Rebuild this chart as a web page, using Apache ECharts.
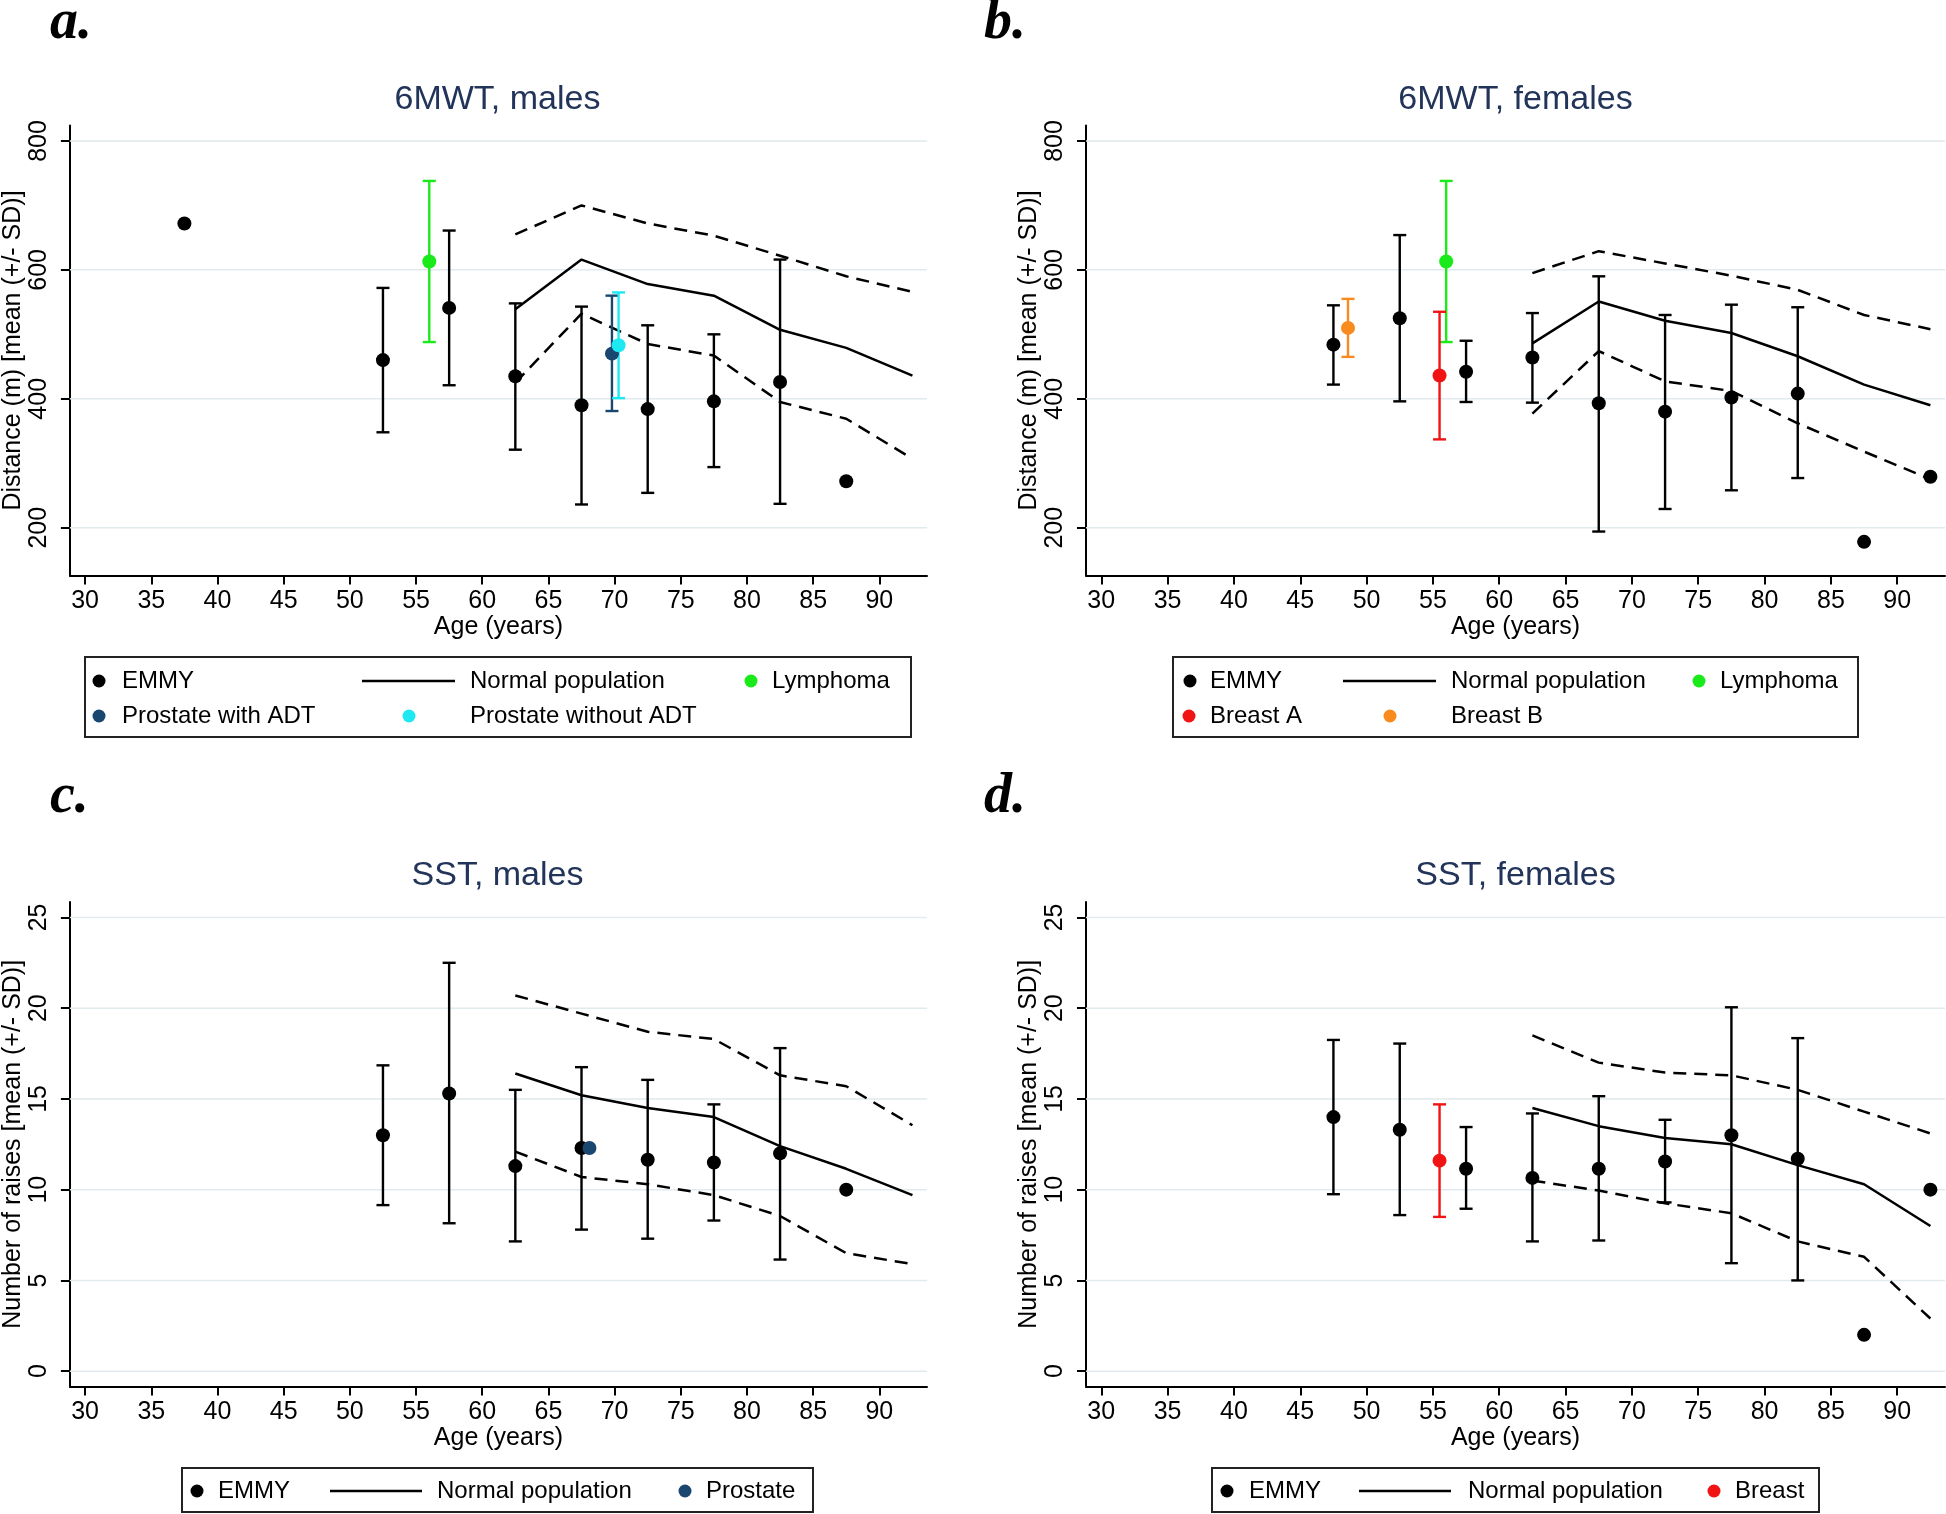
<!DOCTYPE html>
<html>
<head>
<meta charset="utf-8">
<script src="https://cdn.jsdelivr.net/npm/echarts@6/dist/echarts.min.js"></script>
<style>
  html, body { margin: 0; padding: 0; background: #fff; }
  #chart { width: 1946px; height: 1514px; }
</style>
</head>
<body>
<div id="chart"></div>
<script>
// tick labels
const xTicks = [30, 35, 40, 45, 50, 55, 60, 65, 70, 75, 80, 85, 90];
const walkTicks = [200, 400, 600, 800];
const standTicks = [0, 5, 10, 15, 20, 25];

// normal population reference ages
const normAge = [62.5, 67.5, 72.5, 77.5, 82.5, 87.5, 92.5];

// a. 6MWT, males
const maleWalkAge = [37.5, 52.5, 57.5, 62.5, 67.5, 72.5, 77.5, 82.5, 87.5];
const maleWalkMean = [672, 460, 541, 435, 390, 384, 396, 426, 272];
const maleWalkLow = [null, 348, 421, 321, 236, 254, 294, 237, null];
const maleWalkHigh = [null, 572, 661, 548, 543, 514, 500, 616, null];
const maleWalkNorm = [539, 616, 578, 560, 507, 479, 436];
const maleWalkUpper = [655, 700, 672, 653, 622, 590, 566];
const maleWalkLower = [425, 532, 485, 467, 395, 369, 307];

// b. 6MWT, females
const femaleWalkAge = [47.5, 52.5, 57.5, 62.5, 67.5, 72.5, 77.5, 82.5, 87.5, 92.5];
const femaleWalkMean = [484, 525, 442, 464, 393, 380, 402, 408, 178, 279];
const femaleWalkLow = [422, 396, 395, 394, 194, 229, 258, 277, null, null];
const femaleWalkHigh = [545, 654, 490, 533, 590, 530, 546, 542, null, null];
const femaleWalkNorm = [486, 551, 521, 502, 466, 422, 390];
const femaleWalkUpper = [595, 629, 610, 591, 569, 530, 508];
const femaleWalkLower = [377, 474, 427, 412, 362, 318, 275];

// c. SST, males
const maleStandAge = [52.5, 57.5, 62.5, 67.5, 72.5, 77.5, 82.5, 87.5];
const maleStandMean = [13.0, 15.3, 11.3, 12.3, 11.65, 11.5, 12.0, 10.0];
const maleStandLow = [9.15, 8.15, 7.15, 7.8, 7.3, 8.3, 6.15, null];
const maleStandHigh = [16.85, 22.5, 15.5, 16.75, 16.05, 14.7, 17.8, null];
const maleStandNorm = [16.4, 15.2, 14.5, 14.0, 12.4, 11.15, 9.7];
const maleStandUpper = [20.7, 19.7, 18.7, 18.3, 16.3, 15.7, 13.55];
const maleStandLower = [12.1, 10.7, 10.3, 9.7, 8.55, 6.5, 5.9];

// d. SST, females
const femaleStandAge = [47.5, 52.5, 57.5, 62.5, 67.5, 72.5, 77.5, 82.5, 87.5, 92.5];
const femaleStandMean = [14.0, 13.3, 11.15, 10.65, 11.15, 11.55, 13.0, 11.7, 2.0, 10.0];
const femaleStandLow = [9.75, 8.6, 8.95, 7.15, 7.2, 9.3, 5.95, 5.0, null, null];
const femaleStandHigh = [18.25, 18.05, 13.45, 14.2, 15.15, 13.85, 20.05, 18.35, null, null];
const femaleStandNorm = [14.5, 13.5, 12.85, 12.5, 11.35, 10.3, 8.0];
const femaleStandUpper = [18.5, 17.0, 16.45, 16.3, 15.5, 14.3, 13.1];
const femaleStandLower = [10.5, 9.95, 9.25, 8.7, 7.15, 6.3, 2.9];

// cancer groups: [age, mean, -SD, +SD]
const lymphomaWalk = [56.0, 613, 488, 738];
const prostateAdtWalk = [69.8, 470, 381, 560];
const prostateNoAdtWalk = [70.3, 483, 401, 565];
const breastAWalk = [55.5, 436, 337, 535];
const breastBWalk = [48.6, 510, 465, 555];
const prostateStand = [68.1, 12.3, null, null];
const breastStand = [55.5, 11.6, 8.5, 14.7];

const SANS = '"Liberation Sans", Arial, Helvetica, sans-serif';
const SERIF = '"Liberation Serif", "Times New Roman", serif';
const LIME = "#1aea1a";
const NAVY = "#1a476f";
const CYAN = "#1ee8f2";
const RED = "#f01414";
const ORANGE = "#f98b1e";
const TITLE = "#22345a";
const GRIDLINE = "#e1eaed";

const panels = [
  {
    letter: "a.", title: "6MWT, males",
    grid: { left: 68, top: 125.5, width: 859, height: 450 },
    yMin: 125.8, yMax: 824, yTicks: walkTicks, yName: "Distance (m) [mean (+/- SD)]",
    age: maleWalkAge, mean: maleWalkMean, low: maleWalkLow, high: maleWalkHigh,
    norm: maleWalkNorm, upper: maleWalkUpper, lower: maleWalkLower,
    groups: [
      { name: "Lymphoma", color: LIME, data: lymphomaWalk },
      { name: "Prostate with ADT", color: NAVY, data: prostateAdtWalk },
      { name: "Prostate without ADT", color: CYAN, data: prostateNoAdtWalk }
    ]
  },
  {
    letter: "b.", title: "6MWT, females",
    grid: { left: 1086, top: 125.5, width: 859, height: 450 },
    yMin: 125.8, yMax: 824, yTicks: walkTicks, yName: "Distance (m) [mean (+/- SD)]",
    age: femaleWalkAge, mean: femaleWalkMean, low: femaleWalkLow, high: femaleWalkHigh,
    norm: femaleWalkNorm, upper: femaleWalkUpper, lower: femaleWalkLower,
    groups: [
      { name: "Lymphoma", color: LIME, data: lymphomaWalk },
      { name: "Breast B", color: ORANGE, data: breastBWalk },
      { name: "Breast A", color: RED, data: breastAWalk }
    ]
  },
  {
    letter: "c.", title: "SST, males",
    grid: { left: 68, top: 902, width: 859, height: 484.6 },
    yMin: -0.85, yMax: 25.85, yTicks: standTicks, yName: "Number of raises [mean (+/- SD)]",
    age: maleStandAge, mean: maleStandMean, low: maleStandLow, high: maleStandHigh,
    norm: maleStandNorm, upper: maleStandUpper, lower: maleStandLower,
    groups: [
      { name: "Prostate", color: NAVY, data: prostateStand }
    ]
  },
  {
    letter: "d.", title: "SST, females",
    grid: { left: 1086, top: 902, width: 859, height: 484.6 },
    yMin: -0.85, yMax: 25.85, yTicks: standTicks, yName: "Number of raises [mean (+/- SD)]",
    age: femaleStandAge, mean: femaleStandMean, low: femaleStandLow, high: femaleStandHigh,
    norm: femaleStandNorm, upper: femaleStandUpper, lower: femaleStandLower,
    groups: [
      { name: "Breast", color: RED, data: breastStand }
    ]
  }
];

function errorBarItem(color) {
  return function (params, api) {
    const x = api.value(0);
    const lo = api.coord([x, api.value(1)]);
    const hi = api.coord([x, api.value(2)]);
    const cap = 6.5;
    const style = { stroke: color, lineWidth: 2.4 };
    return {
      type: "group",
      children: [
        { type: "line", shape: { x1: lo[0], y1: lo[1], x2: hi[0], y2: hi[1] }, style },
        { type: "line", shape: { x1: lo[0] - cap, y1: lo[1], x2: lo[0] + cap, y2: lo[1] }, style },
        { type: "line", shape: { x1: hi[0] - cap, y1: hi[1], x2: hi[0] + cap, y2: hi[1] }, style }
      ]
    };
  };
}

function gridLineItem(params, api) {
  const y = api.coord([api.value(0), api.value(1)])[1];
  const cs = params.coordSys;
  return {
    type: "line",
    shape: { x1: cs.x, y1: y, x2: cs.x + cs.width, y2: y },
    style: { stroke: GRIDLINE, lineWidth: 1.5 }
  };
}

const grids = [];
const xAxes = [];
const yAxes = [];
const series = [];
const graphics = [];

panels.forEach((p, i) => {
  grids.push(p.grid);
  xAxes.push({
    type: "value", gridIndex: i, min: 28.85, max: 93.6,
    axisLine: { show: true, onZero: false, lineStyle: { color: "#000", width: 2 } },
    axisTick: { show: true, length: 9, customValues: xTicks, lineStyle: { color: "#000", width: 2 } },
    axisLabel: { customValues: xTicks, color: "#000", fontSize: 25, fontFamily: SANS, margin: 13 },
    splitLine: { show: false },
    name: "Age (years)", nameLocation: "middle", nameGap: 39,
    nameTextStyle: { color: "#000", fontSize: 25, fontFamily: SANS }
  });
  yAxes.push({
    type: "value", gridIndex: i, min: p.yMin, max: p.yMax,
    axisLine: { show: true, onZero: false, lineStyle: { color: "#000", width: 2 } },
    axisTick: { show: true, length: 9, customValues: p.yTicks, lineStyle: { color: "#000", width: 2 } },
    axisLabel: { customValues: p.yTicks, rotate: 90, color: "#000", fontSize: 25, fontFamily: SANS, margin: 18 },
    splitLine: { show: false },
    name: p.yName, nameLocation: "middle", nameGap: 43,
    nameTextStyle: { color: "#000", fontSize: 25, fontFamily: SANS }
  });

  const ax = { xAxisIndex: i, yAxisIndex: i };
  series.push({
    type: "custom", ...ax, z: 1, silent: true,
    renderItem: gridLineItem,
    data: p.yTicks.map(v => [xTicks[0], v])
  });
  series.push({
    name: "Normal population", type: "line", ...ax, z: 2, symbol: "none",
    lineStyle: { color: "#000", width: 2.5 },
    data: normAge.map((a, k) => [a, p.norm[k]])
  });
  [p.upper, p.lower].forEach(band => {
    series.push({
      type: "line", ...ax, z: 2, symbol: "none",
      lineStyle: { color: "#000", width: 2.5, type: [13, 8] },
      data: normAge.map((a, k) => [a, band[k]])
    });
  });
  series.push({
    type: "custom", ...ax, z: 3, renderItem: errorBarItem("#000"),
    encode: { x: 0, y: [1, 2] },
    data: p.age.map((a, k) => [a, p.low[k], p.high[k]]).filter(d => d[1] != null)
  });
  series.push({
    name: "EMMY", type: "scatter", ...ax, z: 4, symbolSize: 14,
    itemStyle: { color: "#000", opacity: 1 },
    data: p.age.map((a, k) => [a, p.mean[k]])
  });
  p.groups.forEach(g => {
    if (g.data[2] != null) {
      series.push({
        type: "custom", ...ax, z: 5, renderItem: errorBarItem(g.color),
        encode: { x: 0, y: [1, 2] },
        data: [[g.data[0], g.data[2], g.data[3]]]
      });
    }
    series.push({
      name: g.name, type: "scatter", ...ax, z: 6, symbolSize: 14,
      itemStyle: { color: g.color, opacity: 1 },
      data: [[g.data[0], g.data[1]]]
    });
  });

  // panel letter and title
  const cx = p.grid.left + p.grid.width / 2;
  const top = i < 2 ? 0 : 774;
  graphics.push({
    type: "text", x: i % 2 === 0 ? 50 : 984, y: top + 24,
    style: { text: p.letter, font: "italic bold 56px " + SERIF, fill: "#000", textVerticalAlign: "middle" }
  });
  graphics.push({
    type: "text", x: cx, y: i < 2 ? 99.5 : 875.5,
    style: { text: p.title, font: "34px " + SANS, fill: TITLE, textAlign: "center", textVerticalAlign: "middle" }
  });
});

// legends: box and entries
const legends = [
  {
    box: [85, 657, 826, 80],
    items: [
      { kind: "dot", color: "#000", x: 99, y: 681, label: "EMMY", tx: 122 },
      { kind: "line", x: 362, x2: 455, y: 681, label: "Normal population", tx: 470 },
      { kind: "dot", color: LIME, x: 751, y: 681, label: "Lymphoma", tx: 772 },
      { kind: "dot", color: NAVY, x: 99, y: 716, label: "Prostate with ADT", tx: 122 },
      { kind: "dot", color: CYAN, x: 409, y: 716, label: "Prostate without ADT", tx: 470 }
    ]
  },
  {
    box: [1173, 657, 685, 80],
    items: [
      { kind: "dot", color: "#000", x: 1190, y: 681, label: "EMMY", tx: 1210 },
      { kind: "line", x: 1343, x2: 1436, y: 681, label: "Normal population", tx: 1451 },
      { kind: "dot", color: LIME, x: 1699, y: 681, label: "Lymphoma", tx: 1720 },
      { kind: "dot", color: RED, x: 1189, y: 716, label: "Breast A", tx: 1210 },
      { kind: "dot", color: ORANGE, x: 1390, y: 716, label: "Breast B", tx: 1451 }
    ]
  },
  {
    box: [182, 1468, 631, 44],
    items: [
      { kind: "dot", color: "#000", x: 197, y: 1491, label: "EMMY", tx: 218 },
      { kind: "line", x: 330, x2: 422, y: 1491, label: "Normal population", tx: 437 },
      { kind: "dot", color: NAVY, x: 685, y: 1491, label: "Prostate", tx: 706 }
    ]
  },
  {
    box: [1212, 1468, 607, 44],
    items: [
      { kind: "dot", color: "#000", x: 1227, y: 1491, label: "EMMY", tx: 1249 },
      { kind: "line", x: 1359, x2: 1451, y: 1491, label: "Normal population", tx: 1468 },
      { kind: "dot", color: RED, x: 1714, y: 1491, label: "Breast", tx: 1735 }
    ]
  }
];

legends.forEach(lg => {
  const [bx, by, bw, bh] = lg.box;
  graphics.push({
    type: "rect", shape: { x: bx, y: by, width: bw, height: bh },
    style: { fill: "#fff", stroke: "#222", lineWidth: 2 }
  });
  lg.items.forEach(it => {
    if (it.kind === "dot") {
      graphics.push({ type: "circle", shape: { cx: it.x, cy: it.y, r: 6.5 }, style: { fill: it.color } });
    } else {
      graphics.push({
        type: "line", shape: { x1: it.x, y1: it.y, x2: it.x2, y2: it.y },
        style: { stroke: "#000", lineWidth: 2.5 }
      });
    }
    graphics.push({
      type: "text", x: it.tx, y: it.y,
      style: { text: it.label, font: "24px " + SANS, fill: "#000", textVerticalAlign: "middle" }
    });
  });
});

const chart = echarts.init(document.getElementById("chart"));
chart.setOption({
  animation: false,
  backgroundColor: "#fff",
  grid: grids,
  xAxis: xAxes,
  yAxis: yAxes,
  series: series,
  graphic: { elements: graphics }
});
</script>
</body>
</html>
